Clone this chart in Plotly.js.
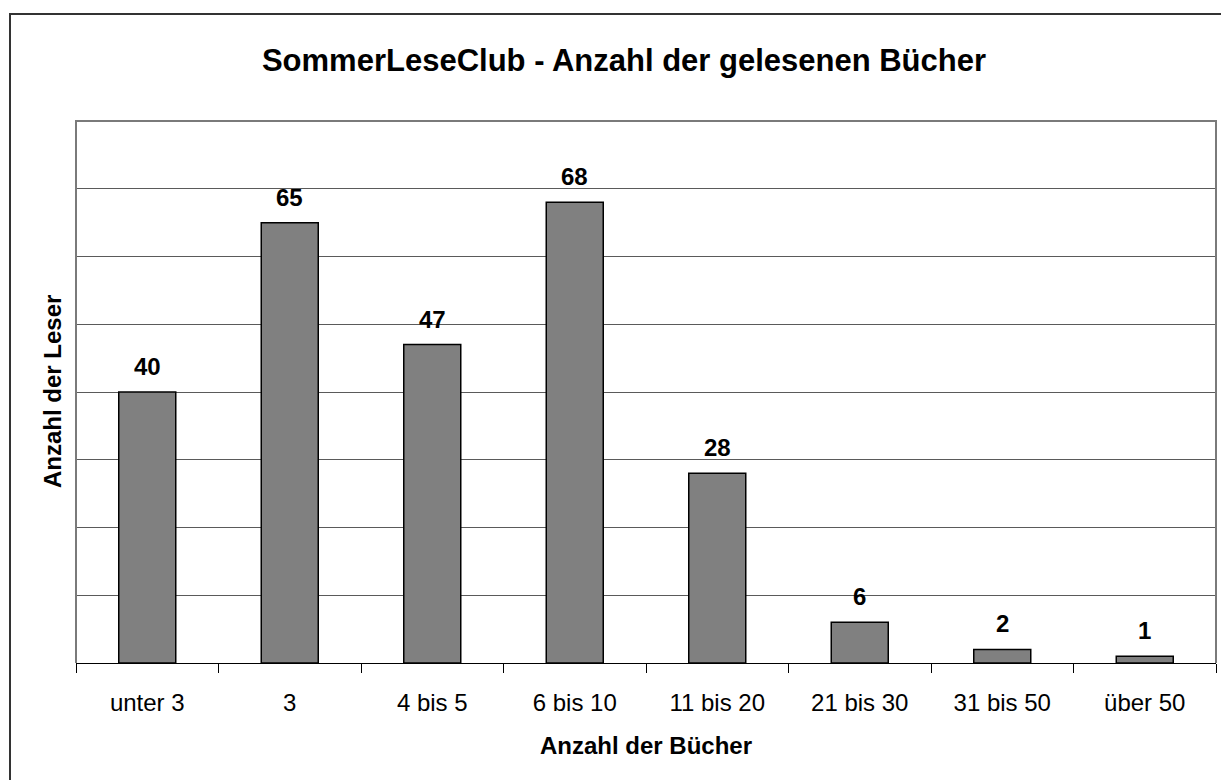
<!DOCTYPE html>
<html>
<head>
<meta charset="utf-8">
<script src="https://cdn.plot.ly/plotly-3.0.1.min.js"></script>
<style>html,body{margin:0;padding:0;background:#fff;}#chart{width:1221px;height:780px;}</style>
</head>
<body>
<div id="chart"></div>
<script>
const categories = ["unter 3", "3", "4 bis 5", "6 bis 10", "11 bis 20", "21 bis 30", "31 bis 50", "über 50"];
const readers = [40, 65, 47, 68, 28, 6, 2, 1];
const chartTitle = "SommerLeseClub - Anzahl der gelesenen Bücher";
const xTitle = "Anzahl der Bücher";
const yTitle = "Anzahl der Leser";

const W = 1221, H = 780;
const mL = 76, mR = 5, mT = 121, mB = 117;
const pw = W - mL - mR, ph = H - mT - mB;
const px = v => (v - mL) / pw;
const py = v => (H - mB - v) / ph;
const FONT = "Liberation Sans, Arial, sans-serif";

const trace = {
  type: "bar",
  x: categories,
  y: readers,
  width: 0.4,
  marker: {color: "#808080", line: {color: "#000", width: 1.5}},
  hoverinfo: "x+y"
};

// category axes take the category index for annotation positions
const labels = categories.map((c, i) => ({
  x: i, y: readers[i], xref: "x", yref: "y",
  text: "<b>" + readers[i] + "</b>",
  showarrow: false, yanchor: "bottom", yshift: 10,
  font: {family: FONT, size: 24, color: "#000"}
}));

labels.push({
  x: px(52), y: 0.5, xref: "paper", yref: "paper",
  text: "<b>" + yTitle + "</b>", textangle: -90,
  showarrow: false, xanchor: "center", yanchor: "middle",
  font: {family: FONT, size: 24, color: "#000"}
});

const layout = {
  width: W, height: H,
  margin: {l: mL, r: mR, t: mT, b: mB, pad: 0},
  paper_bgcolor: "#fff", plot_bgcolor: "#fff",
  showlegend: false,
  title: {
    text: "<b>" + chartTitle + "</b>",
    x: 624 / W, xanchor: "center", xref: "container",
    y: 1 - 60 / H, yanchor: "middle", yref: "container",
    font: {family: FONT, size: 31, color: "#000"}
  },
  xaxis: {
    type: "category",
    tickson: "boundaries",
    ticks: "outside", ticklen: 9, tickcolor: "#000", tickwidth: 1,
    ticklabelstandoff: 18,
    showline: true, linecolor: "#000", linewidth: 1,
    showgrid: false, zeroline: false,
    tickfont: {family: FONT, size: 24, color: "#000"},
    title: {text: "<b>" + xTitle + "</b>", standoff: 22,
            font: {family: FONT, size: 24, color: "#000"}},
    fixedrange: true
  },
  yaxis: {
    range: [0, 80], dtick: 10, tick0: 0,
    showticklabels: false, ticks: "",
    showgrid: true, gridcolor: "#5a5a5a", gridwidth: 1,
    showline: false, zeroline: false,
    fixedrange: true
  },
  shapes: [
    {type: "path", xref: "paper", yref: "paper",
     path: `M ${px(76)},${py(663)} L ${px(76)},${py(121)} L ${px(1216)},${py(121)} L ${px(1216)},${py(663)}`,
     line: {color: "#7a7a7a", width: 2}, layer: "above"},
    {type: "path", xref: "paper", yref: "paper",
     path: `M ${px(10)},${py(800)} L ${px(10)},${py(14)} L ${px(1240)},${py(14)}`,
     line: {color: "#333", width: 2}, layer: "above"}
  ],
  annotations: labels,
  font: {family: FONT, color: "#000"}
};

Plotly.newPlot("chart", [trace], layout, {displayModeBar: false, staticPlot: true});
</script>
</body>
</html>
